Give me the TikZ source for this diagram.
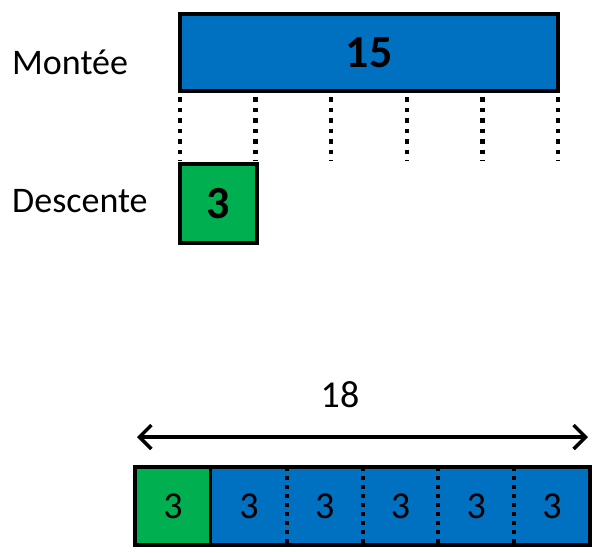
\documentclass[tikz,border=0pt]{standalone}
\usepackage{fontspec}
\setmainfont{Carlito}
\usetikzlibrary{arrows.meta}
\definecolor{barblue}{HTML}{0070C0}
\definecolor{bargreen}{HTML}{00B050}

\begin{document}
\begin{tikzpicture}[x=1pt, y=-1pt,
    bar/.style={draw=black, line width=4pt, inner sep=0pt, outer sep=0pt,
      font=\bfseries\fontsize{46}{48}\selectfont},
    cell/.style={inner sep=0pt, outer sep=0pt, minimum width=75.8pt,
      minimum height=78pt, font=\fontsize{38}{40}\selectfont},
    sep/.style={line width=4.5pt, dash pattern=on 4.5pt off 6pt},
    lbl/.style={anchor=west, inner sep=0pt, font=\fontsize{36}{38}\selectfont}]
  \useasboundingbox (0,0) rectangle (597,552);
  \def\w{75.6}
  % montee and descente
  \node[bar, fill=barblue, minimum width=378pt, minimum height=77pt] (M) at (369,52.5) {15};
  \node[bar, fill=bargreen, minimum width=77pt, minimum height=79pt] (D) at (218.5,203.5) {3};
  \node[lbl] (ML) at (12,62) {Montée};
  \node[lbl] (DL) at (12,201) {Descente};
  \foreach \i in {0,...,5} {
    \path (M.south west) ++(\i*\w,6) coordinate (t\i);
    \draw[sep] (t\i) -- ++(0,64);
  }
  % total
  \coordinate (L) at (137,437);
  \coordinate (R) at (588,437);
  \draw[{Straight Barb[length=12pt,width=24pt]}-{Straight Barb[length=12pt,width=24pt]},
    line width=3.5pt] (L) -- (R);
  \node[font=\fontsize{38}{40}\selectfont] (T) at (340,395) {18};
  \node[cell, fill=bargreen] (c0) at (173,506) {3};
  \foreach \i in {1,...,5}
    \node[cell, fill=barblue] (c\i) at ({211+(\i-0.5)*75.8},506) {3};
  \draw[line width=3pt] (c0.north east) -- (c0.south east);
  \foreach \i in {1,...,4}
    \draw[sep, line width=4pt, dash pattern=on 4pt off 5pt] (c\i.north east) -- (c\i.south east);
  \draw[line width=4pt] (c0.north west) rectangle (c5.south east);
\end{tikzpicture}
\end{document}
